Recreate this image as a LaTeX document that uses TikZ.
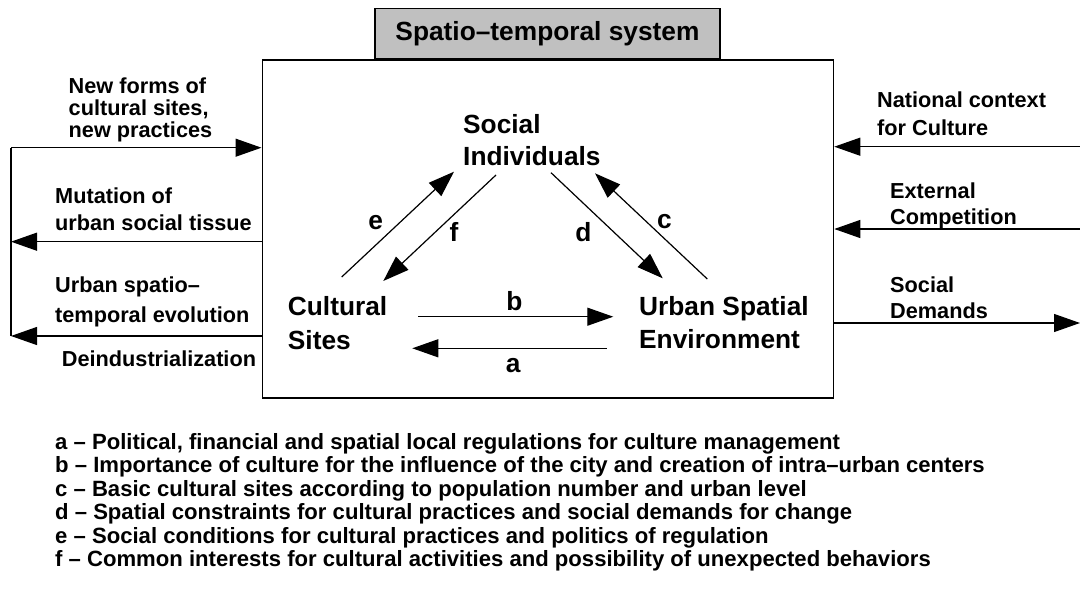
\documentclass[tikz,border=0pt]{standalone}
\usepackage{fontspec}
\setmainfont{Liberation Sans}
\usetikzlibrary{arrows.meta}
\definecolor{tgray}{RGB}{192,192,192}
\begin{document}
\begin{tikzpicture}[x=1pt,y=-1pt,
  arr/.style={line width=1.2pt, -{Triangle[length=26pt,width=18pt]}},
  conn/.style={line width=1.2pt},
  boxstyle/.style={draw, line width=1.6pt, rectangle, inner sep=0pt},
  big/.style={font=\fontsize{26.3}{#1}\selectfont\bfseries, inner sep=0pt, align=left, anchor=base west},
  big/.default=33,
  side/.style={font=\fontsize{21.7}{#1}\selectfont\bfseries, inner sep=0pt, align=left, anchor=base west},
  side/.default=27,
  lab/.style={font=\fontsize{26.3}{32}\selectfont\bfseries, inner sep=0pt, anchor=base},
  legendtext/.style={font=\fontsize{22.1}{23.5}\selectfont\bfseries, inner sep=0pt, align=left, anchor=base west}]
\useasboundingbox (0,0) rectangle (1080,589);
% boxes (multi-line nodes: base = baseline of last line)
\node[boxstyle, fill=tgray, minimum width=345pt, minimum height=50pt, anchor=south] (title) at (547.5,59.3) {};
\node[lab] (titletext) at (547.5,41) {Spatio–temporal system};
\node[boxstyle, minimum width=571.2pt, minimum height=337.7pt, anchor=north west] (sys) at (261.5,59.3) {};
% main nodes
\node[big=32] (soc) at (463,165) {Social\\Individuals};
\node[big=34] (cult) at (287.7,349) {Cultural\\Sites};
\node[big=33] (urb) at (639,348) {Urban Spatial\\Environment};
% triangle connector end points
\coordinate (eS) at (341.7,277);   \coordinate (eT) at (454,171.7);
\coordinate (fS) at (496,175);     \coordinate (fT) at (383.3,281);
\coordinate (dS) at (551,172.7);   \coordinate (dT) at (662.7,278.3);
\coordinate (cS) at (707.3,279);   \coordinate (cT) at (595,173.3);
\coordinate (bS) at (418.3,316.7); \coordinate (bT) at (613.3,316.7);
\coordinate (aS) at (606.7,348.3); \coordinate (aT) at (412.3,348.3);
\draw[arr] (eS) -- (eT);
\draw[arr] (fS) -- (fT);
\draw[arr] (dS) -- (dT);
\draw[arr] (cS) -- (cT);
\draw[arr] (bS) -- (bT);
\draw[arr] (aS) -- (aT);
\node[lab] (le) at (375.7,229.3) {e};
\node[lab] (lf) at (454,241.7) {f};
\node[lab] (ld) at (583.3,241.7) {d};
\node[lab] (lc) at (664.5,228.3) {c};
\node[lab] (lb) at (514.5,310.7) {b};
\node[lab] (la) at (513.3,372.7) {a};
% left side
\coordinate (L1) at (11,147.7);
\coordinate (L2) at (11,241.7);
\coordinate (L3) at (11,336);
\draw[conn] (L3) -- (L1);
\draw[arr] (L1) -- (L1 -| sys.west);
\draw[arr] (L2 -| sys.west) -- (L2);
\draw[arr] (L3 -| sys.west) -- (L3);
\node[side=22] (newforms) at (68.5,137.5) {New forms of\\cultural sites,\\new practices};
\node[side=27] (mutation) at (55,230) {Mutation of\\urban social tissue};
\node[side=30] (evol) at (55,322) {Urban spatio–\\temporal evolution};
\node[side] (deind) at (61.7,366.7) {Deindustrialization};
% right side
\coordinate (R1) at (1080,146.7);
\coordinate (R2) at (1080,229);
\coordinate (R3) at (1080,323);
\draw[arr] (R1) -- (R1 -| sys.east);
\draw[arr] (R2) -- (R2 -| sys.east);
\draw[arr] (R3 -| sys.east) -- (R3);
\node[side=28] (natctx) at (877,135) {National context\\for Culture};
\node[side=26] (extcomp) at (890,224) {External\\Competition};
\node[side=26] (socdem) at (890,318) {Social\\Demands};
% legend
\node[legendtext] (legend) at (55,566.5) {a – Political, financial and spatial local regulations for culture management\\
b – Importance of culture for the influence of the city and creation of intra–urban centers\\
c – Basic cultural sites according to population number and urban level\\
d – Spatial constraints for cultural practices and social demands for change\\
e – Social conditions for cultural practices and politics of regulation\\
f – Common interests for cultural activities and possibility of unexpected behaviors};
\end{tikzpicture}
\end{document}
